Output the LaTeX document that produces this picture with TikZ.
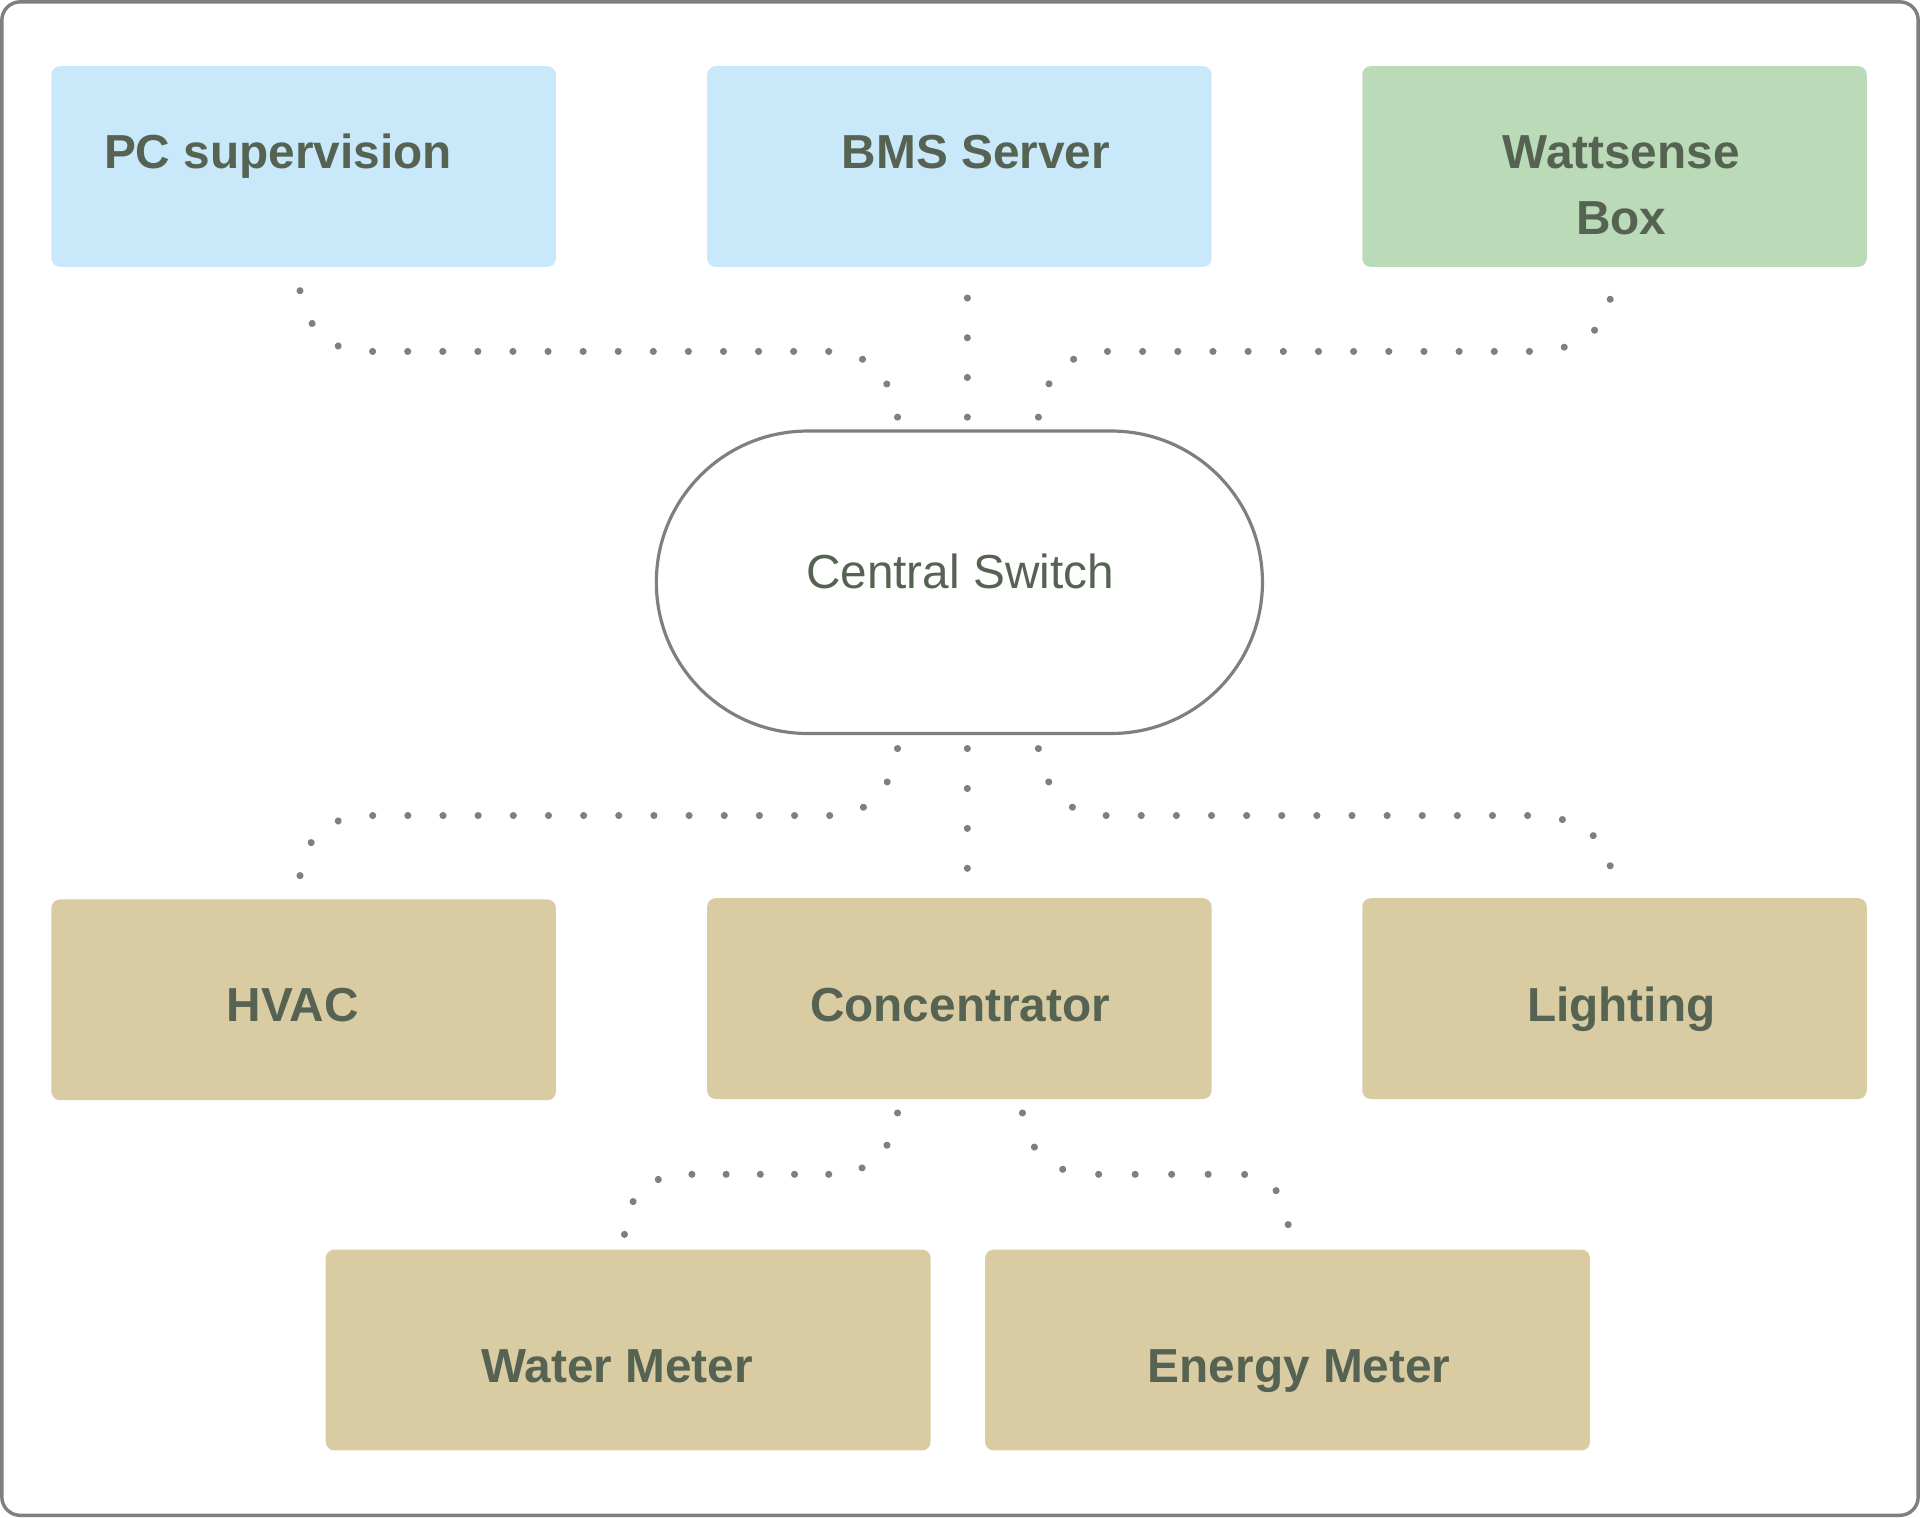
\documentclass[tikz,border=0pt]{standalone}
\usepackage{fontspec}
\setmainfont{Liberation Sans}
\usetikzlibrary{calc,decorations.markings}

\definecolor{azul}{HTML}{C9E9FB}
\definecolor{verde}{HTML}{BBDAB8}
\definecolor{arena}{HTML}{D9CCA3}
\definecolor{texto}{HTML}{566353}
\definecolor{gris}{HTML}{7F7F7F}

\begin{document}
\begin{tikzpicture}[x=0.5pt, y=-0.5pt,
    caja/.style={fill=#1, rounded corners=3.5pt, minimum width=206pt, minimum height=82pt, inner sep=0pt},
    etiqueta/.style={anchor=base, text=texto, inner sep=0pt, align=center,
        font=\fontsize{19.5}{27}\selectfont\bfseries},
    enlace/.style={postaction={decorate}, decoration={markings,
        mark=between positions 0 and 0.99 step 1/#1 with {\fill[gris] (0,0) circle (1.45pt);},
        mark=at position 0.9999 with {\fill[gris] (0,0) circle (1.45pt);}}}]
        % Marco exterior
        \useasboundingbox (0,0) rectangle (1568,1239);
        \draw[gris, line width=1.4pt, rounded corners=7.5pt] (1.5,1.5) rectangle (1566.5,1237.5);

        % Cajas de arriba
        \node[caja=azul] (pc) at (248,136) {};
        \node[caja=azul] (bms) at (783.5,136) {};
        \node[caja=verde] (watt) at (1318.5,136) {};
        \node[etiqueta] (pc-t) at (227,137.5) {PC supervision};
        \node[etiqueta] (bms-t) at (797,137.5) {BMS Server};
        \node[etiqueta] (watt-t) at (1324,191.5) {Wattsense\\Box};

        % Switch central
        \node[draw=gris, line width=1.3pt, fill=white, rounded corners=61.75pt,
            minimum width=247.5pt, minimum height=123.5pt] (sw) at (783.5,475.5) {};
        \node[etiqueta, font=\fontsize{19.5}{27}\selectfont] (sw-t) at (784,481) {Central Switch};

        % Cajas de abajo
        \node[caja=arena] (hvac) at (248,816.5) {};
        \node[caja=arena] (conc) at (783.5,815.5) {};
        \node[caja=arena] (light) at (1318.5,815.5) {};
        \node[caja=arena, minimum width=247pt] (water) at (513,1102.5) {};
        \node[caja=arena, minimum width=247pt] (energy) at (1051.5,1102.5) {};
        \node[etiqueta] (hvac-t) at (239,834) {HVAC};
        \node[etiqueta] (conc-t) at (784,834) {Concentrator};
        \node[etiqueta] (light-t) at (1324,834) {Lighting};
        \node[etiqueta] (water-t) at (504,1129) {Water Meter};
        \node[etiqueta] (energy-t) at (1061,1129) {Energy Meter};

        % Enlaces de arriba al switch
        \path[enlace=19] ($(pc.south)+(-3,19)$) .. controls (252,268) and (265,287) .. (303,287)
            -- (678,287) .. controls (718,287) and (731,322) .. ($(sw.north)+(-50.5,-10)$);
        \path[enlace=3] ($(bms.south)+(6.5,25)$) -- ($(sw.north)+(6.5,-10)$);
        \path[enlace=18] ($(watt.south)+(-3.5,26)$) .. controls (1310,270) and (1290,287) .. (1249,287)
            -- (903,287) .. controls (866,287) and (850,318) .. ($(sw.north)+(64.5,-10)$);

        % Enlaces del switch hacia abajo
        \path[enlace=19] ($(sw.south)+(-50.5,11)$) .. controls (730,635) and (716,666) .. (678,666)
            -- (303,666) .. controls (262,666) and (248,690) .. ($(hvac.north)+(-3,-19)$);
        \path[enlace=3] ($(sw.south)+(6.5,11)$) -- ($(conc.north)+(6.5,-24)$);
        \path[enlace=18] ($(sw.south)+(64.5,11)$) .. controls (851,635) and (865,666) .. (903,666)
            -- (1249,666) .. controls (1290,666) and (1311,685) .. ($(light.north)+(-3.5,-26)$);

        % Concentrador a los contadores
        \path[enlace=10] ($(conc.south)+(-50.5,11)$) .. controls (730,933) and (716,959) .. (678,959)
            -- (563,959) .. controls (525,959) and (512,980) .. ($(water.north)+(-3,-12)$);
        \path[enlace=9] ($(conc.south)+(51.5,11)$) .. controls (838,933) and (852,959) .. (893,959)
            -- (1013,959) .. controls (1040,959) and (1050,980) .. ($(energy.north)+(0.5,-20)$);
    \end{tikzpicture}
\end{document}
